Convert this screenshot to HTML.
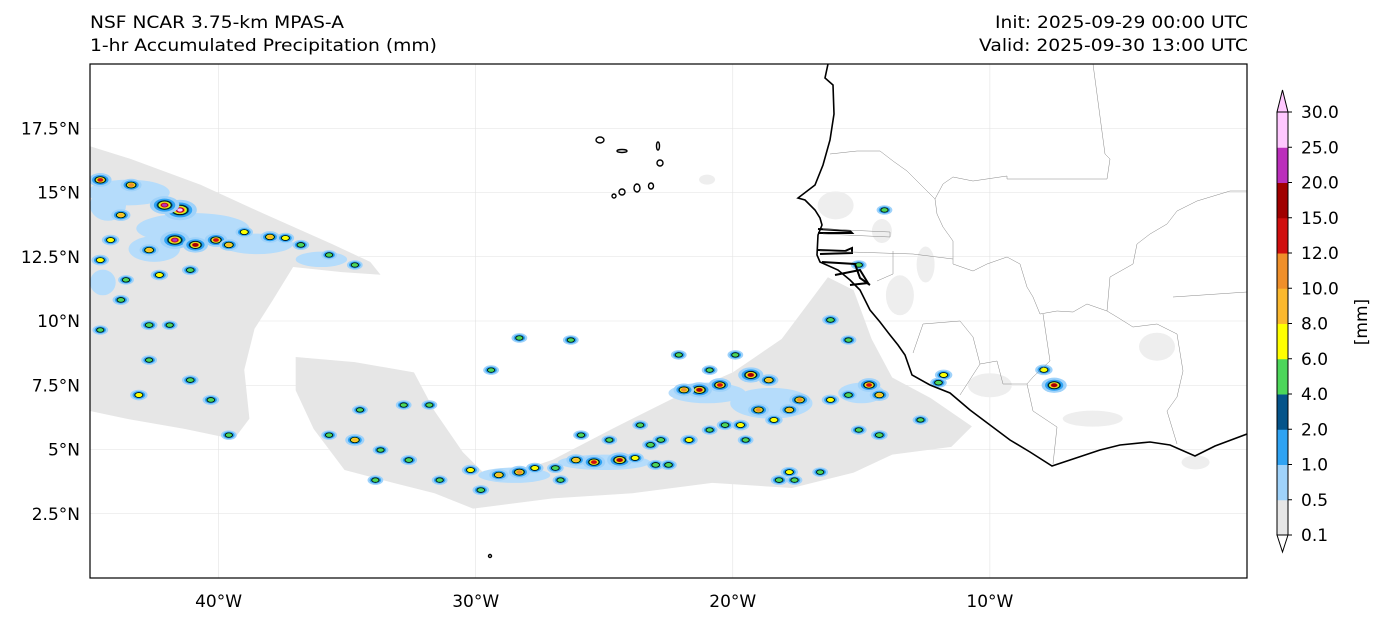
<!DOCTYPE html>
<html><head><meta charset="utf-8">
<style>
html,body{margin:0;padding:0;background:#fff;}
body{width:1384px;height:623px;overflow:hidden;font-family:"Liberation Sans","DejaVu Sans",sans-serif;}
svg text{font-family:"DejaVu Sans","Liberation Sans",sans-serif;}
</style></head>
<body>
<svg id="chart" width="1384" height="623" viewBox="0 0 1384 623">
<text x="90" y="28" font-size="17" textLength="254" lengthAdjust="spacingAndGlyphs">NSF NCAR 3.75-km MPAS-A</text>
<text x="90" y="51" font-size="17" textLength="347" lengthAdjust="spacingAndGlyphs">1-hr Accumulated Precipitation (mm)</text>
<text x="995" y="28" font-size="17" textLength="253" lengthAdjust="spacingAndGlyphs">Init: 2025-09-29 00:00 UTC</text>
<text x="979" y="51" font-size="17" textLength="269" lengthAdjust="spacingAndGlyphs">Valid: 2025-09-30 13:00 UTC</text>
<defs><clipPath id="clip"><rect x="90" y="64" width="1157" height="514"/></clipPath></defs>
<g id="mapg" clip-path="url(#clip)"></g>
<rect x="90" y="64" width="1157" height="514" fill="none" stroke="#000" stroke-width="1.2"/>
<g id="axes"></g>
<g id="cbar"></g>
</svg>
<script>
// ---- data ----
const lonTicks = [-40, -30, -20, -10];
const lonTickLabels = ["40°W", "30°W", "20°W", "10°W"];
const latTicks = [2.5, 5, 7.5, 10, 12.5, 15, 17.5];
const latTickLabels = ["2.5°N", "5°N", "7.5°N", "10°N", "12.5°N", "15°N", "17.5°N"];
const levels = [0.1, 0.5, 1, 2, 4, 6, 8, 10, 12, 15, 20, 25, 30];
const levelLabels = ["0.1","0.5","1.0","2.0","4.0","6.0","8.0","10.0","12.0","15.0","20.0","25.0","30.0"];
const levelColors = ["#e6e6e6","#9fd2fa","#2fa3f3","#05548a","#4cd65a","#ffff00","#fbb82e","#ef8f2a","#cf0e0e","#a00000","#bb2fbb","#ffc8ff"];
const cellLon = [-41.5,-42.1,-44.6,-43.4,-43.8,-41.7,-40.9,-40.1,-39.6,-39.0,-38.0,-36.8,-37.4,-44.2,-42.7,-44.6,-41.1,-43.6,-42.3,-43.8,-44.6,-42.7,-41.9,-43.1,-42.7,-40.3,-39.6,-41.1,-34.7,-35.7,
 -35.7,-34.7,-33.7,-32.6,-32.8,-31.8,-34.5,-33.9,-31.4,-30.2,-29.8,-29.1,-28.3,-27.7,-26.9,-26.7,-26.1,-25.4,-24.4,-23.8,-23.0,-22.5,-25.9,-24.8,-23.6,-22.8,-21.7,-20.9,-19.7,-18.4,-17.8,-19.0,-20.3,-21.3,-20.5,-21.9,-19.3,-18.6,-17.4,-16.2,-15.5,-14.7,-14.3,-15.1,-14.3,-12.7,-11.8,-16.2,-15.5,-15.1,-14.1,-17.6,-17.8,-18.2,-16.6,-19.5,-23.2,-29.4,-28.3,-26.3,-22.1,-19.9,-20.9,-7.9,-7.5,-12.0];
const cellLat = [14.32,14.51,15.49,15.29,14.12,13.15,12.96,13.15,12.96,13.46,13.27,12.96,13.23,13.15,12.76,12.37,11.98,11.60,11.79,10.82,9.65,9.84,9.84,7.12,8.48,6.93,5.56,7.70,12.18,12.57,
 5.56,5.37,4.98,4.59,6.73,6.73,6.54,3.81,3.81,4.20,3.42,4.01,4.12,4.28,4.28,3.81,4.59,4.51,4.59,4.67,4.40,4.40,5.56,5.37,5.95,5.37,5.37,5.76,5.95,6.15,6.54,6.54,5.95,7.32,7.51,7.32,7.90,7.70,6.93,6.93,7.12,7.51,7.12,5.76,5.56,6.15,7.90,10.04,9.26,12.18,14.32,3.81,4.12,3.81,4.12,5.37,5.18,8.09,9.34,9.26,8.68,8.68,8.09,8.1,7.5,7.6];
const cellVal = [25,20,12,10,8,20,15,12,8,6,8,5,6,6,8,6,5,4,6,5,4,5,4,6,4,5,4,5,4,4,
 4,8,4,5,4,4,4,4,4,6,5,8,10,6,5,4,8,12,15,6,5,5,4,4,4,5,6,4,6,6,8,10,5,15,12,10,15,8,10,6,5,12,8,4,5,4,6,5,4,4,4,4,6,5,4,4,5,4,4,4,4,4,4,6,15,5];
// light rain regions (lon/lat polygons)
const rainLon = [[-45,-43.4,-40.7,-38.3,-35.6,-34.1,-33.7,-35.2,-37.1,-37.9,-38.6,-39.0,-38.8,-39.4,-41.3,-43.6,-45],
 [-37.0,-34.7,-32.4,-31.6,-30.5,-29.4,-27.0,-24.7,-22.3,-20.0,-18.1,-16.9,-16.3,-15.3,-14.6,-13.8,-12.3,-10.7,-11.5,-13.8,-15.3,-17.7,-20.8,-23.9,-27.0,-30.1,-31.6,-33.2,-35.1,-36.3,-37.0]];
const rainLat = [[16.8,16.3,15.3,14.2,13.0,12.3,11.8,11.9,12.1,10.8,9.7,8.1,6.2,5.4,5.8,6.2,6.5],
 [8.6,8.4,8.0,6.5,4.9,3.8,4.6,5.8,7.0,8.0,9.3,10.9,11.7,11.2,9.3,7.8,7.0,5.9,5.1,4.8,4.1,3.5,3.7,3.3,3.1,2.7,3.3,3.7,4.2,5.8,7.3]];
// moderate rain (0.5-1 mm) patches: lon, lat, lon-halfwidth, lat-halfheight
const modLon = [-43.5,-41.0,-38.5,-36.0,-44.3,-21.0,-18.5,-15.0,-25.0,-28.5,-44.5,-42.5];
const modLat = [15.0,13.6,13.0,12.4,14.5,7.2,6.8,7.2,4.5,4.0,11.5,12.8];
const modW = [1.6,2.2,1.4,1.0,0.7,1.5,1.6,0.9,1.8,1.4,0.5,1.0];
const modH = [0.5,0.6,0.4,0.3,0.6,0.4,0.6,0.4,0.3,0.3,0.5,0.5];
// ---- projection ----
const X0=90,X1=1247,Y0=64,Y1=578, LON0=-45,LON1=0,LAT0=0,LAT1=20;
function xs(lon){return X0+(lon-LON0)/(LON1-LON0)*(X1-X0);}
function ys(lat){return Y1-(lat-LAT0)/(LAT1-LAT0)*(Y1-Y0);}
const PX=(X1-X0)/(LON1-LON0), PY=(Y1-Y0)/(LAT1-LAT0);
const NS="http://www.w3.org/2000/svg";
function mk(tag,attrs,parent){const e=document.createElementNS(NS,tag);for(const k in attrs)e.setAttribute(k,attrs[k]);parent.appendChild(e);return e;}
const map=document.getElementById('mapg');
lonTicks.forEach(l=>{const g=mk('line',{x1:xs(l),x2:xs(l),y1:Y0,y2:Y1,stroke:'#e2e2e2','stroke-width':0.6},map);

});
latTicks.forEach(l=>{const g=mk('line',{x1:X0,x2:X1,y1:ys(l),y2:ys(l),stroke:'#e2e2e2','stroke-width':0.6},map);

});
rainLon.forEach((lo,i)=>{const pts=lo.map((v,j)=>xs(v)+','+ys(rainLat[i][j])).join(' ');
const p=mk('polygon',{points:pts,fill:'#e6e6e6'},map);

});
[[-16,14.5,18,14],[-14.2,13.5,10,12],[-10,7.5,22,12],[-3.5,9,18,14],[-6,6.2,30,8],[-13.5,11,14,20],[-12.5,12.2,9,18],[-2,4.5,14,7],[-21,15.5,8,5]].forEach(a=>{
const e=mk('ellipse',{cx:xs(a[0]),cy:ys(a[1]),rx:a[2],ry:a[3],fill:'#eeeeee'},map);

});
modLon.forEach((lo,i)=>{const e=mk('ellipse',{cx:xs(lo),cy:ys(modLat[i]),rx:modW[i]*PX,ry:modH[i]*PY,fill:'#b5dcfb'},map);

});
const radii=[0,5.5,4.0,3.0,2.5,2.1,1.8,1.6,1.4,1.2,1.0,0.8];
cellVal.forEach((v,i)=>{
 const g=mk('g',{},map);
 
 
 const s=0.8+v/18, cx=xs(cellLon[i]), cy=ys(cellLat[i]);
 for(let k=1;k<levelColors.length;k++){
  if(levels[k]>v) break;
  const r=radii[k]*s;
  const att={cx:cx,cy:cy,rx:r*1.4,ry:r*0.85,fill:levelColors[k]};
  if(k===4){att.stroke='#000';att['stroke-width']=0.7;}
  mk('ellipse',att,g);
 }
});
const coast="828,64 825,78 833,85 834,114 830,140 823,165 815,185 798,198 805,200 815,210 820,218 822,225 818,235 817,255 820,262 838,270 850,280 860,290 870,310 880,322 890,335 898,345 905,355 912,375 930,385 950,393 970,410 990,425 1010,440 1030,452 1052,466 1070,460 1100,450 1120,445 1150,442 1170,445 1195,456 1215,446 1247,434";
const c=mk('polyline',{points:coast,fill:'none',stroke:'#000','stroke-width':1.6},map);


const rag=["818,229 850,231 852,233 818,233","818,250 845,251 852,248 852,253 820,254","835,275 860,270 868,283 850,285","822,262 855,264 860,278 870,285"];
rag.forEach(r=>{const p=mk('polyline',{points:r,fill:'none',stroke:'#000','stroke-width':2},map);

});
const borders=["1093,64 1105,154 1110,159 1107,179 1007,179 1007,176 973,181 953,177 943,184 935,199",
"830,154 857,151 880,151 893,161 907,171 920,184 935,199 937,214 943,227 953,241 953,264",
"823,229 890,232 890,237 823,234","820,251 913,254 953,259","893,251 893,274 877,281",
"953,264 973,271 987,264 1007,257 1020,264 1027,287 1033,297 1040,314 1057,311 1073,312 1087,304 1107,311 1117,317 1133,327 1157,324 1177,334",
"1107,311 1110,277 1133,264 1137,244 1150,234 1167,224 1177,211 1197,201 1230,191 1247,191",
"1173,297 1247,292","1177,334 1183,371 1177,397 1167,411 1177,444",
"913,353 923,324 960,321 973,337 980,364 997,361 1003,384 1027,384 1033,411 1057,427 1053,464",
"1043,314 1047,341 1050,361 1033,377 1027,384","980,364 960,395"];
borders.forEach(b=>{const p=mk('polyline',{points:b,fill:'none',stroke:'#888','stroke-width':0.5},map);

});
[[600,140,4,3],[622,151,5,1.5],[658,146,1.5,4],[660,163,3,3],[614,196,2,2],[622,192,3,3],[637,188,3,4],[651,186,2.5,3],[490,556,1.5,1.5]].forEach(a=>{
const e=mk('ellipse',{cx:a[0],cy:a[1],rx:a[2],ry:a[3],fill:'none',stroke:'#000','stroke-width':1.4},map);

});
const FS=17;
const ax=document.getElementById('axes');
lonTicks.forEach((l,i)=>{const t=mk('text',{x:xs(l),y:607,'font-size':FS,'text-anchor':'middle'},ax);t.textContent=lonTickLabels[i];

});
latTicks.forEach((l,i)=>{const t=mk('text',{x:80,y:ys(l)+6,'font-size':FS,'text-anchor':'end'},ax);t.textContent=latTickLabels[i];

});
const cb=document.getElementById('cbar');
const CBX=1277,CBW=11,CB0=535,CB1=112;
function cy(i){return CB0-i*(CB0-CB1)/(levels.length-1);}
levelColors.forEach((col,i)=>{const r=mk('rect',{x:CBX,y:cy(i+1),width:CBW,height:cy(i)-cy(i+1)+0.5,fill:col},cb);

});
const tb=mk('polygon',{points:`${CBX},${CB0} ${CBX+CBW/2},${CB0+17} ${CBX+CBW},${CB0}`,fill:'#fff',stroke:'#000','stroke-width':1},cb);


const tt=mk('polygon',{points:`${CBX},${CB1} ${CBX+CBW/2},${CB1-22} ${CBX+CBW},${CB1}`,fill:'#ffc8ff',stroke:'#000','stroke-width':1},cb);


mk('rect',{x:CBX,y:CB1,width:CBW,height:CB0-CB1,fill:'none',stroke:'#000','stroke-width':1},cb);
levels.forEach((v,i)=>{mk('line',{x1:CBX+CBW,x2:CBX+CBW+4,y1:cy(i),y2:cy(i),stroke:'#000'},cb);
const t=mk('text',{x:CBX+CBW+13,y:cy(i)+6,'font-size':FS},cb);t.textContent=levelLabels[i];

});
const u=mk('text',{x:1367,y:322,'font-size':FS,'text-anchor':'middle',transform:'rotate(-90 1367 322)'},cb);u.textContent='[mm]';


</script>
</body></html>
